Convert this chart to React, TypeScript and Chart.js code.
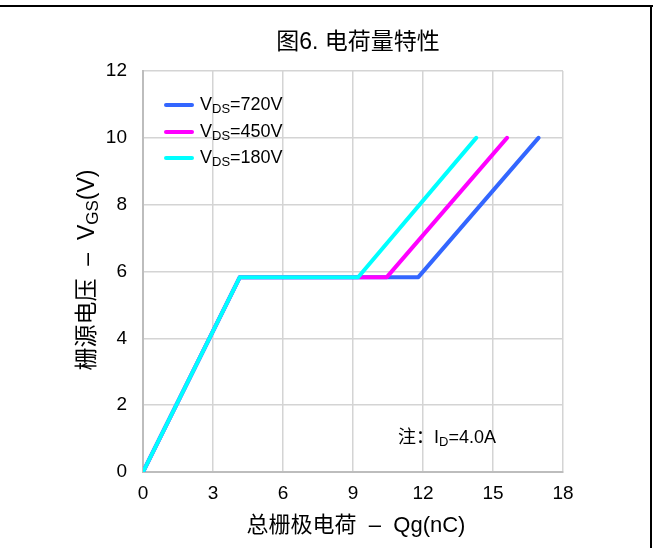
import React, { useEffect, useRef } from "react";
import { Chart, registerables } from "chart.js";

Chart.register(...registerables);

const seriesNames = ["720V", "450V", "180V"];
const qg720 = [0, 4.15, 11.8, 16.95];
const vgs720 = [0, 5.83, 5.83, 10];
const qg450 = [0, 4.15, 10.45, 15.6];
const vgs450 = [0, 5.83, 5.83, 10];
const qg180 = [0, 4.15, 9.22, 14.28];
const vgs180 = [0, 5.83, 5.83, 10];
const xTicks = [0, 3, 6, 9, 12, 15, 18];
const yTicks = [0, 2, 4, 6, 8, 10, 12];
const colors = ["#3366ff", "#ff00ff", "#00ffff"];

const FAMILY = "'Liberation Sans', Arial, 'Noto Sans CJK SC', sans-serif";

type Seg = { t: string; sub?: boolean };

function drawRich(ctx: CanvasRenderingContext2D, segs: Seg[], x: number, y: number, align: "left" | "center", fs: number) {
  const subFs = Math.round(fs * 0.72);
  let total = 0;
  const widths = segs.map((s) => {
    ctx.font = `${s.sub ? subFs : fs}px ${FAMILY}`;
    const w = ctx.measureText(s.t).width;
    total += w;
    return w;
  });
  let cx = align === "center" ? x - total / 2 : x;
  ctx.textBaseline = "middle";
  ctx.textAlign = "left";
  segs.forEach((s, i) => {
    ctx.font = `${s.sub ? subFs : fs}px ${FAMILY}`;
    ctx.fillText(s.t, cx, s.sub ? y + fs * 0.22 : y);
    cx += widths[i];
  });
}

const decorPlugin = {
  id: "decor",
  afterDraw(chart: any) {
    const ctx: CanvasRenderingContext2D = chart.ctx;
    ctx.save();
    // frame
    ctx.fillStyle = "#000";
    ctx.fillRect(0, 5, 653, 2);
    ctx.fillRect(650, 5, 2, 548);
    ctx.fillStyle = "#000";
    // title
    drawRich(ctx, [{ t: "图6. 电荷量特性" }], 358, 43, "center", 23);
    // x title
    drawRich(ctx, [{ t: "总栅极电荷  –  Qg(nC)" }], 356, 526, "center", 22);
    // y title
    ctx.save();
    ctx.translate(88, 270);
    ctx.rotate(-Math.PI / 2);
    drawRich(ctx, [{ t: "栅源电压  –  V" }, { t: "GS", sub: true }, { t: "(V)" }], 0, 0, "center", 23);
    ctx.restore();
    // legend
    const ly = [105, 132, 158];
    seriesNames.forEach((n, i) => {
      ctx.strokeStyle = colors[i];
      ctx.lineWidth = 4;
      ctx.lineCap = "round";
      ctx.beginPath();
      ctx.moveTo(166, ly[i]);
      ctx.lineTo(192, ly[i]);
      ctx.stroke();
      ctx.fillStyle = "#000";
      drawRich(ctx, [{ t: "V" }, { t: "DS", sub: true }, { t: "=" + n }], 200, ly[i], "left", 18);
    });
    // annotation
    drawRich(ctx, [{ t: "注：I" }, { t: "D", sub: true }, { t: "=4.0A" }], 398, 438, "left", 18);
    ctx.restore();
  },
};

export default function App() {
  const ref = useRef<HTMLCanvasElement | null>(null);
  useEffect(() => {
    document.body.style.margin = "0";
    const mk = (xs: number[], ys: number[]) => xs.map((x, i) => ({ x, y: ys[i] }));
    const chart = new Chart(ref.current!, {
      type: "line",
      data: {
        datasets: [
          { label: seriesNames[0], data: mk(qg720, vgs720), borderColor: colors[0], order: 2 },
          { label: seriesNames[1], data: mk(qg450, vgs450), borderColor: colors[1], order: 1 },
          { label: seriesNames[2], data: mk(qg180, vgs180), borderColor: colors[2], order: 0 },
        ].map((d) => ({ ...d, borderWidth: 4, pointRadius: 0, tension: 0, fill: false, borderCapStyle: "round" as const, borderJoinStyle: "round" as const })),
      },
      options: {
        animation: false,
        responsive: false,
        layout: { padding: { left: 0, right: 93, top: 71, bottom: 0 } },
        plugins: { legend: { display: false }, title: { display: false }, tooltip: { enabled: false } },
        scales: {
          x: {
            type: "linear",
            min: 0,
            max: 18,
            afterBuildTicks: (s: any) => { s.ticks = xTicks.map((v) => ({ value: v })); },
            afterFit: (s: any) => { s.height = 76; },
            ticks: { color: "#000", font: { size: 19, family: FAMILY }, padding: 10, maxRotation: 0 },
            grid: { color: "#d4d4d4", lineWidth: 1.5, drawTicks: false },
            border: { color: "#bdbdbd", width: 2 },
          },
          y: {
            type: "linear",
            min: 0,
            max: 12,
            afterBuildTicks: (s: any) => { s.ticks = yTicks.map((v) => ({ value: v })); },
            afterFit: (s: any) => { s.width = 143; },
            ticks: { color: "#000", font: { size: 19, family: FAMILY }, padding: 16 },
            grid: { color: "#d4d4d4", lineWidth: 1.5, drawTicks: false },
            border: { color: "#bdbdbd", width: 2 },
          },
        },
      },
      plugins: [decorPlugin],
    });
    return () => chart.destroy();
  }, []);
  return <canvas ref={ref} width={656} height={548} style={{ display: "block" }} />;
}
